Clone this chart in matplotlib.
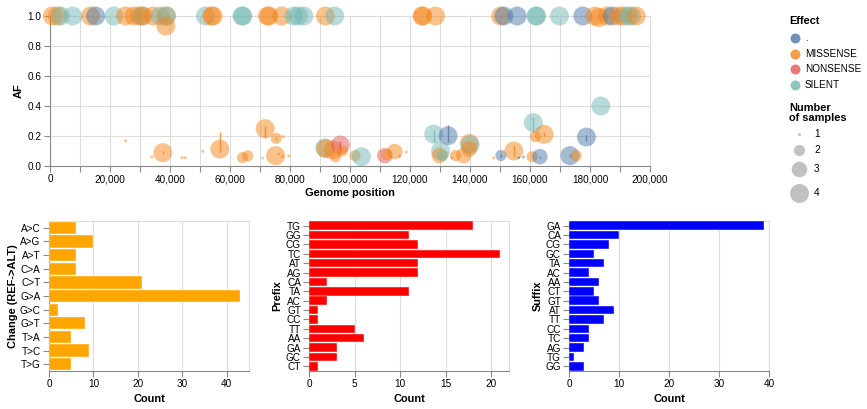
import numpy as np
import matplotlib.pyplot as plt

plt.rcParams['font.family'] = ['Liberation Sans', 'DejaVu Sans']

# ---- data ----
effects = ['.', 'MISSENSE', 'NONSENSE', 'SILENT']
effect_colors = ['#4c78a8', '#f58518', '#e45756', '#72b7b2']

# variants: position, allele frequency, effect, number of samples, af range (rule)
pos = [800, 2500, 3500, 7600, 13500, 15200, 21300, 25200, 27900, 29800, 30600, 31000,
       34300, 36800, 38700, 38900, 38600, 51800, 53800, 54400, 64000, 64300, 72500, 73000,
       77200, 81300, 82800, 84600, 91800, 94900,
       124000, 124300, 128500, 150200, 151300, 155700, 162000, 162200, 169800, 177600,
       181600, 183000, 185700, 187400, 189600, 191300, 192700, 193800, 195400,
       25200, 34000, 37600, 44000, 45000, 50900, 56600, 64200, 65900, 70900, 71700,
       75400, 77800, 75200, 76300, 77400, 79600, 91600, 91900, 94300, 96800, 95200,
       97400, 101700, 103800, 111600, 112300, 114900, 116500, 118800, 127900, 132700,
       130200, 129800, 130900, 135200, 134000, 137900, 139800, 140000, 139700, 147900,
       150300, 154600, 156200, 157800, 161100, 161800, 164700, 160700, 163300, 173300,
       175400, 178800, 183600]
af = [1.0, 1.0, 1.0, 1.0, 1.0, 1.0, 1.0, 1.0, 1.0, 1.0, 1.0, 1.0,
      1.0, 1.0, 1.0, 1.0, 0.933, 1.0, 1.0, 1.0, 1.0, 1.0, 1.0, 1.0,
      1.0, 1.0, 1.0, 1.0, 1.0, 1.0,
      1.0, 1.0, 1.0, 1.0, 1.0, 1.0, 1.0, 1.0, 1.0, 1.0,
      1.0, 0.99, 1.0, 1.0, 1.0, 1.0, 1.0, 1.0, 1.0,
      0.167, 0.06, 0.089, 0.057, 0.055, 0.098, 0.113, 0.056, 0.068, 0.053, 0.249,
      0.184, 0.196, 0.069, 0.08, 0.062, 0.066, 0.12, 0.116, 0.107, 0.14, 0.062,
      0.10, 0.069, 0.062, 0.069, 0.075, 0.096, 0.065, 0.093, 0.213, 0.202,
      0.10, 0.07, 0.07, 0.07, 0.055, 0.07, 0.151, 0.14, 0.113, 0.053,
      0.07, 0.10, 0.055, 0.06, 0.289, 0.196, 0.211, 0.062, 0.062, 0.069,
      0.069, 0.193, 0.40]
effect = ['MISSENSE', 'MISSENSE', 'SILENT', 'SILENT', 'MISSENSE', '.', 'SILENT', 'MISSENSE',
          'MISSENSE', 'MISSENSE', 'SILENT', 'MISSENSE', 'MISSENSE', 'SILENT', 'MISSENSE',
          'SILENT', 'MISSENSE', 'SILENT', 'MISSENSE', 'MISSENSE', 'SILENT', 'SILENT',
          'MISSENSE', 'MISSENSE', 'MISSENSE', 'SILENT', 'SILENT', 'SILENT', 'MISSENSE',
          'SILENT',
          'MISSENSE', 'MISSENSE', 'MISSENSE', 'MISSENSE', '.', '.', 'SILENT', 'SILENT',
          'SILENT', '.', 'MISSENSE', 'MISSENSE', 'MISSENSE', '.', 'MISSENSE', 'MISSENSE',
          'SILENT', 'SILENT', 'MISSENSE',
          'MISSENSE', 'MISSENSE', 'MISSENSE', 'MISSENSE', 'MISSENSE', 'MISSENSE', 'MISSENSE',
          'MISSENSE', 'MISSENSE', 'SILENT', 'MISSENSE', 'MISSENSE', 'MISSENSE', 'MISSENSE',
          'MISSENSE', 'MISSENSE', 'MISSENSE', 'SILENT', 'MISSENSE', 'MISSENSE', 'NONSENSE',
          'MISSENSE', 'MISSENSE', 'MISSENSE', 'SILENT', 'NONSENSE', 'MISSENSE', 'MISSENSE',
          'MISSENSE', 'MISSENSE', 'SILENT', '.', 'SILENT', 'MISSENSE', 'SILENT', 'MISSENSE',
          'MISSENSE', 'MISSENSE', 'MISSENSE', 'SILENT', 'MISSENSE', 'MISSENSE', '.',
          'MISSENSE', '.', '.', 'SILENT', 'MISSENSE', 'MISSENSE', 'MISSENSE', '.', '.',
          'MISSENSE', '.', 'SILENT']
nsamples = [4] * 49 + [1, 1, 4, 1, 1, 1, 4, 2, 2, 1, 4,
                       2, 1, 4, 1, 1, 1, 4, 4, 4, 4, 2,
                       2, 2, 4, 3, 2, 3, 1, 1, 4, 4,
                       4, 3, 2, 2, 1, 3, 4, 4, 3, 1,
                       2, 4, 1, 1, 4, 2, 4, 2, 3, 4,
                       2, 4, 4]
# vertical rules (min/max AF over samples) for some variants
rule_pos = [37600, 56600, 71700, 75400, 91600, 96800, 127900, 132700, 150300, 154600,
            161100, 164700, 173300, 178800, 163300]
rule_lo = [0.08, 0.096, 0.19, 0.175, 0.09, 0.11, 0.16, 0.162, 0.062, 0.062,
           0.218, 0.20, 0.062, 0.165, 0.055]
rule_hi = [0.10, 0.224, 0.27, 0.195, 0.13, 0.165, 0.24, 0.275, 0.078, 0.14,
           0.324, 0.23, 0.078, 0.205, 0.07]
rule_eff = ['MISSENSE', 'MISSENSE', 'MISSENSE', 'MISSENSE', 'SILENT', 'NONSENSE', 'SILENT',
            '.', '.', 'MISSENSE', 'SILENT', 'MISSENSE', '.', '.', '.']

change_labels = ['A>C', 'A>G', 'A>T', 'C>A', 'C>T', 'G>A', 'G>C', 'G>T', 'T>A', 'T>C', 'T>G']
change_counts = [6, 10, 6, 6, 21, 43, 2, 8, 5, 9, 5]

prefix_labels = ['TG', 'GG', 'CG', 'TC', 'AT', 'AG', 'CA', 'TA', 'AC', 'GT', 'CC', 'TT',
                 'AA', 'GA', 'GC', 'CT']
prefix_counts = [18, 11, 12, 21, 12, 12, 2, 11, 2, 1, 1, 5, 6, 3, 3, 1]

suffix_labels = ['GA', 'CA', 'CG', 'GC', 'TA', 'AC', 'AA', 'CT', 'GT', 'AT', 'TT', 'CC',
                 'TC', 'AG', 'TG', 'GG']
suffix_counts = [39, 10, 8, 5, 7, 4, 6, 5, 6, 9, 7, 4, 4, 3, 1, 3]

# ---- style ----
W, H = 867, 409
TICK = 7.2
TITLE = 7.9
GRID = '#dddddd'
DOMAIN = '#888888'


def px_rect(x, y, w, h):
    return [x / W, (H - y - h) / H, w / W, h / H]


def size_pts(n):
    area = 7 + 92 * (np.asarray(n) - 1)
    d = np.sqrt(4 * area / np.pi)
    return (d * 0.72) ** 2


def style_ax(ax):
    for s in ['top', 'right']:
        ax.spines[s].set_color(GRID)
        ax.spines[s].set_linewidth(0.8)
    for s in ['left', 'bottom']:
        ax.spines[s].set_color(DOMAIN)
        ax.spines[s].set_linewidth(0.8)
    ax.tick_params(colors=DOMAIN, labelcolor='black', labelsize=TICK, length=4, width=0.8, pad=2)
    ax.set_axisbelow(True)


fig = plt.figure(figsize=(W / 100, H / 100), dpi=100)

# ---- scatter ----
ax = fig.add_axes(px_rect(50, 16, 600, 150))
style_ax(ax)
cmap = dict(zip(effects, effect_colors))
cols = [cmap[e] for e in effect]
ax.scatter(pos, af, s=size_pts(nsamples), c=cols, alpha=0.5, linewidths=0, clip_on=False, zorder=3)
ax.vlines(rule_pos, rule_lo, rule_hi, colors=[cmap[e] for e in rule_eff], lw=1, alpha=0.8, zorder=4)
ax.set_xlim(0, 200000)
ax.set_ylim(0, 1)
ax.set_xticks(np.arange(0, 200001, 10000))
ax.set_xticklabels(['{:,}'.format(v) if v % 20000 == 0 else '' for v in range(0, 200001, 10000)])
ax.set_yticks(np.arange(0, 1.01, 0.2))
ax.set_yticklabels(['{:.1f}'.format(v) for v in np.arange(0, 1.01, 0.2)])
ax.grid(True, color=GRID, lw=0.8)
ax.set_xlabel('Genome position', fontsize=TITLE, fontweight='bold', labelpad=3)
ax.set_ylabel('AF', fontsize=TITLE, fontweight='bold', labelpad=3)


# ---- bars ----
def bar_panel(x0, labels, counts, color, xmax, xticks, ylabel, lpad):
    b = fig.add_axes(px_rect(x0, 221, 200, 150))
    style_ax(b)
    y = np.arange(len(labels))
    b.barh(y, counts, height=0.9, color=color, edgecolor='white', linewidth=0.3, zorder=3)
    b.set_yticks(y)
    b.set_yticklabels(labels)
    b.set_ylim(len(labels) - 0.5, -0.5)
    b.set_xlim(0, xmax)
    b.set_xticks(xticks)
    b.grid(True, axis='x', color=GRID, lw=0.8)
    b.set_xlabel('Count', fontsize=TITLE, fontweight='bold', labelpad=3)
    b.set_ylabel(ylabel, fontsize=TITLE, fontweight='bold', labelpad=lpad)
    return b


bar_panel(49, change_labels, change_counts, '#ffa500', 45, [0, 10, 20, 30, 40], 'Change (REF->ALT)', 1)
bar_panel(309.3, prefix_labels, prefix_counts, '#ff0000', 22, [0, 5, 10, 15, 20], 'Prefix', 2)
bar_panel(569.3, suffix_labels, suffix_counts, '#0000ff', 40, [0, 10, 20, 30, 40], 'Suffix', 2)

# ---- legends ----
lg = fig.add_axes([0, 0, 1, 1])
lg.set_xlim(0, W)
lg.set_ylim(H, 0)
lg.axis('off')
lg.text(789, 21, 'Effect', fontsize=TITLE, fontweight='bold', va='center', ha='left')
for i, (e, c) in enumerate(zip(effects, effect_colors)):
    yy = 38 + i * 15.7
    lg.scatter([794.5], [yy], s=(10 * 0.72) ** 2, color=c, alpha=0.8, linewidths=0)
    lg.text(805, yy, e, fontsize=TICK, va='center', ha='left')
lg.text(789, 113, 'Number\nof samples', fontsize=TITLE, fontweight='bold', va='center', ha='left',
        linespacing=1.1)
size_y = [134, 150, 169, 193]
for n, yy in zip([1, 2, 3, 4], size_y):
    lg.scatter([799], [yy], s=size_pts(n), color='#bbbbbb', alpha=0.9, linewidths=0)
    lg.text(814, yy, str(n), fontsize=TICK, va='center', ha='left')

fig.savefig('out.png', dpi=100)
